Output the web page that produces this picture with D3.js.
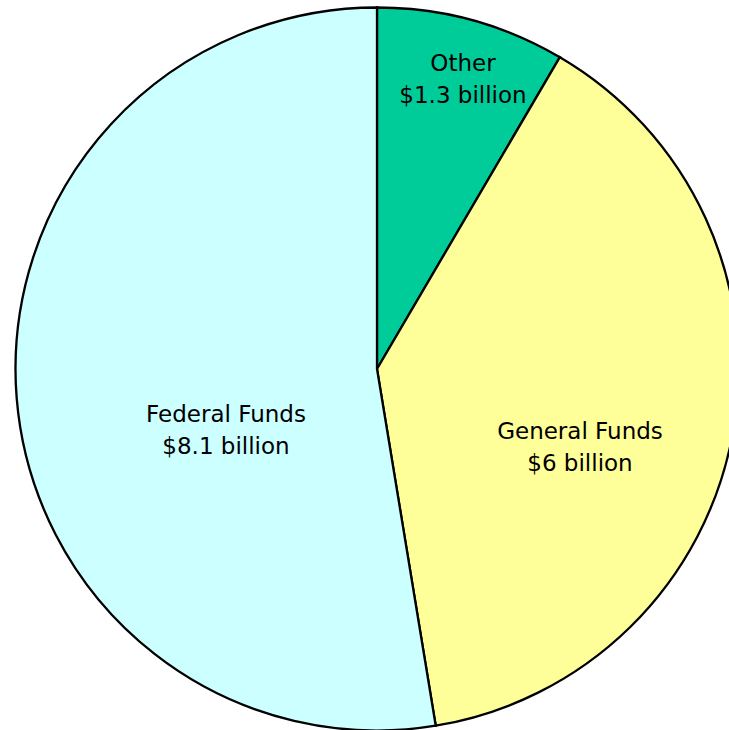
<!DOCTYPE html>
<html><head><meta charset="utf-8">
<script src="https://cdn.jsdelivr.net/npm/d3@7"></script>
<style>html,body{margin:0;padding:0;background:#fff;overflow:hidden}</style>
</head><body><svg id="c" width="729" height="730"></svg>
<script>
const categories = ["Other", "General Funds", "Federal Funds"];
const values = [1.3, 6, 8.1];
const valueLabels = ["$1.3 billion", "$6 billion", "$8.1 billion"];
const colors = ["#00CC99", "#FFFF99", "#CCFFFF"];
const labelPos = [[463, 63], [580, 431], [226, 414]];

const svg = d3.select("#c");
const cx = 377, cy = 369, r = 361.5;
const pie = d3.pie().sort(null).value(d => d)(values);
const arc = d3.arc().innerRadius(0).outerRadius(r);
const g = svg.append("g").attr("transform", `translate(${cx},${cy})`);
g.selectAll("path").data(pie).join("path")
  .attr("d", arc).attr("fill", (d, i) => colors[i])
  .attr("stroke", "#000").attr("stroke-width", 2.3).attr("stroke-linejoin", "miter");

const t = svg.selectAll("text.l").data(categories).join("text")
  .attr("class", "l")
  .attr("text-anchor", "middle")
  .attr("font-family", "DejaVu Sans, sans-serif")
  .attr("font-size", 23)
  .attr("fill", "#000");
t.append("tspan").attr("x", (d, i) => labelPos[i][0]).attr("y", (d, i) => labelPos[i][1] + 8).text(d => d);
t.append("tspan").attr("x", (d, i) => labelPos[i][0]).attr("y", (d, i) => labelPos[i][1] + 40).text((d, i) => valueLabels[i]);
</script></body></html>
